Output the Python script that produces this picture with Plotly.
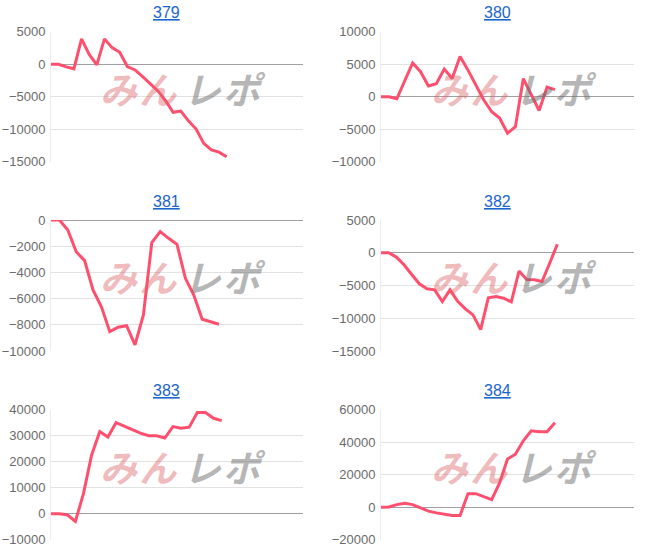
import plotly.graph_objects as go

# ---------------- data ----------------
titles = ["379", "380", "381", "382", "383", "384"]

v379 = [0, 0, -400, -700, 3900, 1500, -100, 3900, 2550, 1850, -350, -870,
        -1900, -3050, -4100, -5600, -7380, -7200, -8700, -9950, -12150, -13150,
        -13500, -14200]
v380 = [0, 0, -300, 2400, 5200, 3850, 1650, 2000, 4250, 2800, 6200, 4100,
        1800, -500, -2300, -3250, -5600, -4600, 2800, 300, -2100, 1500, 1100]
v381 = [0, 0, -760, -2420, -3100, -5340, -6620, -8520, -8190, -8070, -9540,
        -7250, -1730, -890, -1400, -1860, -4450, -5730, -7580, -7760, -7960]
v382 = [0, 0, -660, -1840, -3320, -4740, -5510, -5660, -7450, -5660, -7400,
        -8570, -9490, -11730, -6890, -6680, -6940, -7500, -2800, -4080, -4130,
        -4390, -1600, 1300]
v383 = [0, 0, -400, -3000, 7800, 22600, 31600, 29500, 35000, 33800, 32300,
        31000, 30000, 30000, 29100, 33500, 32900, 33300, 38900, 38900, 36700,
        35800]
v384 = [0, 100, 1600, 2400, 1600, -400, -2400, -3500, -4500, -5100, -5100,
        8300, 8300, 6700, 4700, 14900, 29700, 32600, 40900, 47000, 46400,
        46400, 51900]

series = [v379, v380, v381, v382, v383, v384]
y_min = [-15000, -10000, -10000, -15000, -10000, -20000]
y_max = [5000, 10000, 0, 5000, 40000, 60000]
y_step = [5000, 5000, 2000, 5000, 10000, 20000]
x_pad = 10  # empty slots after the last point

# ---------------- layout geometry ----------------
W, H = 648, 552
col_px = [(51, 303), (381, 634)]
row_px = [(31.7, 161.9), (220, 351), (409.7, 539.7)]

LINE = "#ff4f6e"
TITLE_BLUE = "#1a66cc"
TICK_GRAY = "#6b6b6b"
FONT = "'Liberation Sans', Arial, sans-serif"

fig = go.Figure()
layout = dict(
    width=W, height=H, autosize=False,
    margin=dict(l=0, r=0, t=0, b=0, pad=0),
    paper_bgcolor="white", plot_bgcolor="white",
    showlegend=False,
    font=dict(family=FONT),
    annotations=[],
)

for i, (name, vals) in enumerate(zip(titles, series)):
    r, c = divmod(i, 2)
    sfx = "" if i == 0 else str(i + 1)
    xa, ya = "x" + sfx, "y" + sfx
    fig.add_trace(go.Scatter(
        x=list(range(len(vals))), y=vals, mode="lines",
        line=dict(color=LINE, width=3), xaxis=xa, yaxis=ya,
        hoverinfo="skip", showlegend=False,
    ))
    x0, x1 = col_px[c]
    t0, b0 = row_px[r]
    layout["xaxis" + sfx] = dict(
        domain=[x0 / W, x1 / W], range=[0, len(vals) - 1 + x_pad],
        showgrid=False, zeroline=False, showticklabels=False, showline=False,
        ticks="", anchor=ya, fixedrange=True, automargin=False,
    )
    layout["yaxis" + sfx] = dict(
        domain=[1 - b0 / H, 1 - t0 / H], range=[y_min[i], y_max[i]],
        tick0=0, dtick=y_step[i], tickformat="d",
        showgrid=True, gridcolor="#e2e2e2",
        gridwidth=1, zeroline=True, zerolinecolor="#a0a0a0", zerolinewidth=1,
        showline=True, linecolor="#ececec", linewidth=1,
        ticks="", ticklen=0, ticklabelstandoff=2,
        tickfont=dict(family=FONT, size=13, color=TICK_GRAY),
        anchor=xa, fixedrange=True, automargin=False,
    )
    # panel title (link style)
    layout["annotations"].append(dict(
        text=name, xref=xa + " domain", yref=ya + " domain",
        x=0.46, y=1, yshift=19, xanchor="center", yanchor="middle",
        showarrow=False,
        font=dict(family=FONT, size=16, color=TITLE_BLUE, lineposition="under"),
    ))
    # watermark
    layout["annotations"].append(dict(
        text=("<span style='color:rgba(220,100,105,0.45)'>み\u200aん</span>"
              "\u2009<span style='color:rgba(110,110,110,0.5)'>レ\u200aポ</span>"),
        xref=xa + " domain", yref=ya + " domain",
        x=0.525, y=0.57, xanchor="center", yanchor="middle", showarrow=False,
        font=dict(family="'Noto Sans CJK JP'", size=37, weight="bold",
                  style="italic"),
    ))

fig.update_layout(**layout)
fig.write_html(
    "out.html",
    config={"responsive": False, "displayModeBar": False},
    post_script="document.body.style.margin='0';document.body.style.padding='0';"
                "document.body.style.overflow='hidden';",
)
